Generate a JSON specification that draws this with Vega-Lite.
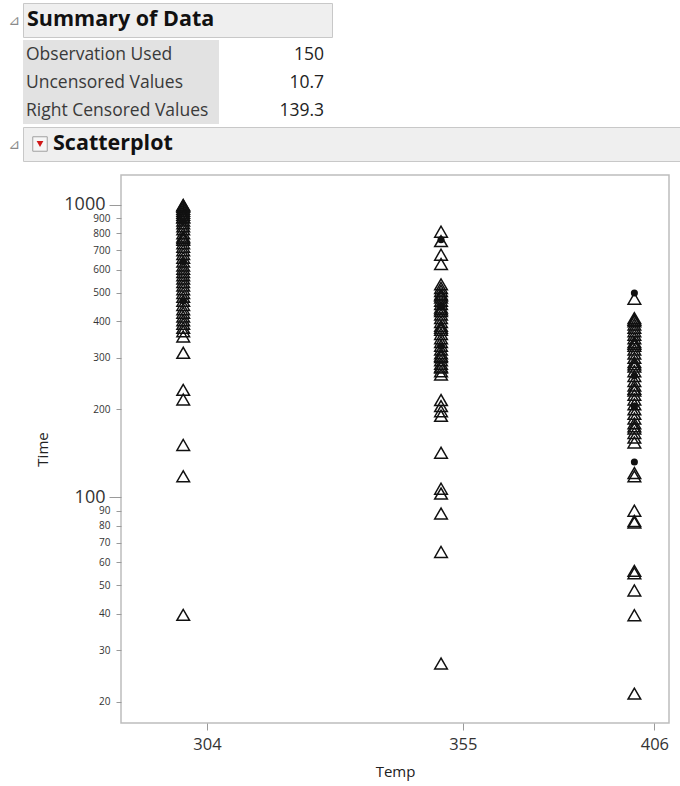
{
  "$schema": "https://vega.github.io/schema/vega-lite/v6.json",
  "background": "white",
  "padding": {"left": 7, "top": 2, "right": 0, "bottom": 0},
  "config": {"font": "Open Sans", "view": {"stroke": null}},
  "datasets": {
    "sections": [
      {"section": "Summary of Data"},
      {"section": "Scatterplot"}
    ],
    "summary": [
      {"stat": "Observation Used", "value": 150},
      {"stat": "Uncensored Values", "value": 10.7},
      {"stat": "Right Censored Values", "value": 139.3}
    ],
    "life": [
      {"Temp": 300, "Time": 1000, "Status": "Censored"},
      {"Temp": 300, "Time": 995, "Status": "Censored"},
      {"Temp": 300, "Time": 985, "Status": "Censored"},
      {"Temp": 300, "Time": 970, "Status": "Censored"},
      {"Temp": 300, "Time": 955, "Status": "Censored"},
      {"Temp": 300, "Time": 940, "Status": "Censored"},
      {"Temp": 300, "Time": 925, "Status": "Censored"},
      {"Temp": 300, "Time": 910, "Status": "Censored"},
      {"Temp": 300, "Time": 905, "Status": "Censored"},
      {"Temp": 300, "Time": 885, "Status": "Censored"},
      {"Temp": 300, "Time": 880, "Status": "Failure"},
      {"Temp": 300, "Time": 865, "Status": "Censored"},
      {"Temp": 300, "Time": 845, "Status": "Censored"},
      {"Temp": 300, "Time": 825, "Status": "Censored"},
      {"Temp": 300, "Time": 800, "Status": "Censored"},
      {"Temp": 300, "Time": 780, "Status": "Censored"},
      {"Temp": 300, "Time": 770, "Status": "Censored"},
      {"Temp": 300, "Time": 760, "Status": "Censored"},
      {"Temp": 300, "Time": 740, "Status": "Censored"},
      {"Temp": 300, "Time": 720, "Status": "Censored"},
      {"Temp": 300, "Time": 700, "Status": "Censored"},
      {"Temp": 300, "Time": 680, "Status": "Censored"},
      {"Temp": 300, "Time": 660, "Status": "Censored"},
      {"Temp": 300, "Time": 640, "Status": "Censored"},
      {"Temp": 300, "Time": 640, "Status": "Failure"},
      {"Temp": 300, "Time": 620, "Status": "Censored"},
      {"Temp": 300, "Time": 605, "Status": "Censored"},
      {"Temp": 300, "Time": 590, "Status": "Censored"},
      {"Temp": 300, "Time": 575, "Status": "Censored"},
      {"Temp": 300, "Time": 560, "Status": "Censored"},
      {"Temp": 300, "Time": 545, "Status": "Censored"},
      {"Temp": 300, "Time": 530, "Status": "Censored"},
      {"Temp": 300, "Time": 515, "Status": "Censored"},
      {"Temp": 300, "Time": 500, "Status": "Censored"},
      {"Temp": 300, "Time": 485, "Status": "Censored"},
      {"Temp": 300, "Time": 470, "Status": "Censored"},
      {"Temp": 300, "Time": 470, "Status": "Failure"},
      {"Temp": 300, "Time": 455, "Status": "Censored"},
      {"Temp": 300, "Time": 440, "Status": "Censored"},
      {"Temp": 300, "Time": 428, "Status": "Censored"},
      {"Temp": 300, "Time": 415, "Status": "Censored"},
      {"Temp": 300, "Time": 403, "Status": "Censored"},
      {"Temp": 300, "Time": 392, "Status": "Censored"},
      {"Temp": 300, "Time": 380, "Status": "Censored"},
      {"Temp": 300, "Time": 370, "Status": "Censored"},
      {"Temp": 300, "Time": 355, "Status": "Censored"},
      {"Temp": 300, "Time": 312, "Status": "Censored"},
      {"Temp": 300, "Time": 233, "Status": "Censored"},
      {"Temp": 300, "Time": 216, "Status": "Censored"},
      {"Temp": 300, "Time": 151, "Status": "Censored"},
      {"Temp": 300, "Time": 118, "Status": "Censored"},
      {"Temp": 300, "Time": 39.6, "Status": "Censored"},

      {"Temp": 350, "Time": 810, "Status": "Censored"},
      {"Temp": 350, "Time": 760, "Status": "Failure"},
      {"Temp": 350, "Time": 752, "Status": "Censored"},
      {"Temp": 350, "Time": 676, "Status": "Censored"},
      {"Temp": 350, "Time": 628, "Status": "Censored"},
      {"Temp": 350, "Time": 535, "Status": "Censored"},
      {"Temp": 350, "Time": 520, "Status": "Censored"},
      {"Temp": 350, "Time": 508, "Status": "Censored"},
      {"Temp": 350, "Time": 495, "Status": "Censored"},
      {"Temp": 350, "Time": 490, "Status": "Censored"},
      {"Temp": 350, "Time": 482, "Status": "Censored"},
      {"Temp": 350, "Time": 470, "Status": "Censored"},
      {"Temp": 350, "Time": 458, "Status": "Censored"},
      {"Temp": 350, "Time": 450, "Status": "Failure"},
      {"Temp": 350, "Time": 446, "Status": "Censored"},
      {"Temp": 350, "Time": 440, "Status": "Censored"},
      {"Temp": 350, "Time": 434, "Status": "Censored"},
      {"Temp": 350, "Time": 422, "Status": "Censored"},
      {"Temp": 350, "Time": 410, "Status": "Censored"},
      {"Temp": 350, "Time": 398, "Status": "Censored"},
      {"Temp": 350, "Time": 386, "Status": "Censored"},
      {"Temp": 350, "Time": 380, "Status": "Censored"},
      {"Temp": 350, "Time": 374, "Status": "Censored"},
      {"Temp": 350, "Time": 362, "Status": "Censored"},
      {"Temp": 350, "Time": 350, "Status": "Censored"},
      {"Temp": 350, "Time": 340, "Status": "Censored"},
      {"Temp": 350, "Time": 330, "Status": "Censored"},
      {"Temp": 350, "Time": 330, "Status": "Failure"},
      {"Temp": 350, "Time": 320, "Status": "Censored"},
      {"Temp": 350, "Time": 311, "Status": "Censored"},
      {"Temp": 350, "Time": 305, "Status": "Censored"},
      {"Temp": 350, "Time": 302, "Status": "Censored"},
      {"Temp": 350, "Time": 294, "Status": "Censored"},
      {"Temp": 350, "Time": 286, "Status": "Censored"},
      {"Temp": 350, "Time": 280, "Status": "Censored"},
      {"Temp": 350, "Time": 278, "Status": "Censored"},
      {"Temp": 350, "Time": 270, "Status": "Censored"},
      {"Temp": 350, "Time": 263, "Status": "Censored"},
      {"Temp": 350, "Time": 215, "Status": "Censored"},
      {"Temp": 350, "Time": 205, "Status": "Censored"},
      {"Temp": 350, "Time": 197, "Status": "Censored"},
      {"Temp": 350, "Time": 190, "Status": "Censored"},
      {"Temp": 350, "Time": 142, "Status": "Censored"},
      {"Temp": 350, "Time": 107, "Status": "Censored"},
      {"Temp": 350, "Time": 103, "Status": "Censored"},
      {"Temp": 350, "Time": 88, "Status": "Censored"},
      {"Temp": 350, "Time": 65, "Status": "Censored"},
      {"Temp": 350, "Time": 27, "Status": "Censored"},

      {"Temp": 400, "Time": 500, "Status": "Failure"},
      {"Temp": 400, "Time": 478, "Status": "Censored"},
      {"Temp": 400, "Time": 410, "Status": "Censored"},
      {"Temp": 400, "Time": 405, "Status": "Censored"},
      {"Temp": 400, "Time": 400, "Status": "Censored"},
      {"Temp": 400, "Time": 390, "Status": "Censored"},
      {"Temp": 400, "Time": 380, "Status": "Censored"},
      {"Temp": 400, "Time": 370, "Status": "Censored"},
      {"Temp": 400, "Time": 360, "Status": "Censored"},
      {"Temp": 400, "Time": 350, "Status": "Censored"},
      {"Temp": 400, "Time": 340, "Status": "Censored"},
      {"Temp": 400, "Time": 335, "Status": "Censored"},
      {"Temp": 400, "Time": 330, "Status": "Censored"},
      {"Temp": 400, "Time": 320, "Status": "Censored"},
      {"Temp": 400, "Time": 310, "Status": "Censored"},
      {"Temp": 400, "Time": 300, "Status": "Censored"},
      {"Temp": 400, "Time": 290, "Status": "Censored"},
      {"Temp": 400, "Time": 285, "Status": "Censored"},
      {"Temp": 400, "Time": 280, "Status": "Censored"},
      {"Temp": 400, "Time": 270, "Status": "Censored"},
      {"Temp": 400, "Time": 260, "Status": "Censored"},
      {"Temp": 400, "Time": 260, "Status": "Failure"},
      {"Temp": 400, "Time": 250, "Status": "Censored"},
      {"Temp": 400, "Time": 241, "Status": "Censored"},
      {"Temp": 400, "Time": 235, "Status": "Censored"},
      {"Temp": 400, "Time": 232, "Status": "Censored"},
      {"Temp": 400, "Time": 224, "Status": "Censored"},
      {"Temp": 400, "Time": 216, "Status": "Censored"},
      {"Temp": 400, "Time": 208, "Status": "Censored"},
      {"Temp": 400, "Time": 205, "Status": "Failure"},
      {"Temp": 400, "Time": 200, "Status": "Censored"},
      {"Temp": 400, "Time": 193, "Status": "Censored"},
      {"Temp": 400, "Time": 186, "Status": "Censored"},
      {"Temp": 400, "Time": 179, "Status": "Censored"},
      {"Temp": 400, "Time": 175, "Status": "Censored"},
      {"Temp": 400, "Time": 172, "Status": "Censored"},
      {"Temp": 400, "Time": 166, "Status": "Censored"},
      {"Temp": 400, "Time": 160, "Status": "Censored"},
      {"Temp": 400, "Time": 154, "Status": "Censored"},
      {"Temp": 400, "Time": 132, "Status": "Failure"},
      {"Temp": 400, "Time": 121, "Status": "Censored"},
      {"Temp": 400, "Time": 118, "Status": "Censored"},
      {"Temp": 400, "Time": 90, "Status": "Censored"},
      {"Temp": 400, "Time": 83, "Status": "Censored"},
      {"Temp": 400, "Time": 82, "Status": "Censored"},
      {"Temp": 400, "Time": 56, "Status": "Censored"},
      {"Temp": 400, "Time": 55, "Status": "Censored"},
      {"Temp": 400, "Time": 48, "Status": "Censored"},
      {"Temp": 400, "Time": 39.5, "Status": "Censored"},
      {"Temp": 400, "Time": 21.3, "Status": "Censored"}
    ]
  },
  "spacing": 2,
  "vconcat": [
    {
      "width": 309,
      "height": 34,
      "view": {"fill": "#efefef", "stroke": "#c8c8c8"},
      "data": {"name": "sections"},
      "transform": [{"filter": "datum.section === 'Summary of Data'"}],
      "encoding": {
        "x": {"datum": 0, "type": "quantitative", "scale": {"domain": [0, 1], "nice": false}, "axis": null}
      },
      "layer": [
        {
          "mark": {"type": "text", "align": "left", "baseline": "middle", "dx": 4, "fontSize": 21.5, "fontWeight": "bold", "color": "#111111"},
          "encoding": {"text": {"field": "section"}}
        },
        {
          "mark": {"type": "text", "align": "center", "baseline": "middle", "dx": -9, "dy": 1, "fontSize": 14, "font": "DejaVu Sans", "color": "#8a8a8a"},
          "encoding": {"text": {"value": "⊿"}}
        }
      ]
    },
    {
      "width": 305,
      "height": 84,
      "data": {"name": "summary"},
      "encoding": {
        "y": {"field": "stat", "type": "nominal", "sort": null, "axis": null, "scale": {"paddingInner": 0, "paddingOuter": 0}}
      },
      "layer": [
        {
          "mark": {"type": "rect", "color": "#e2e2e2"},
          "encoding": {
            "x": {"datum": 0, "type": "quantitative", "scale": {"domain": [0, 305], "nice": false, "zero": false}, "axis": null},
            "x2": {"datum": 196}
          }
        },
        {
          "mark": {"type": "text", "align": "left", "baseline": "middle", "dx": 3, "dy": 1, "fontSize": 17.5, "color": "#3a3a3a"},
          "encoding": {
            "x": {"datum": 0, "type": "quantitative"},
            "text": {"field": "stat"}
          }
        },
        {
          "mark": {"type": "text", "align": "right", "baseline": "middle", "dx": -4, "dy": 1, "fontSize": 17.5, "color": "#222222"},
          "encoding": {
            "x": {"datum": 305, "type": "quantitative"},
            "text": {"field": "value", "type": "quantitative"}
          }
        }
      ]
    },
    {
      "spacing": 12,
      "vconcat": [
        {
          "width": 657,
          "height": 34,
          "view": {"fill": "#efefef", "stroke": "#c8c8c8"},
          "data": {"name": "sections"},
          "transform": [{"filter": "datum.section === 'Scatterplot'"}],
          "encoding": {
            "x": {"datum": 0, "type": "quantitative", "scale": {"domain": [0, 1], "nice": false}, "axis": null}
          },
          "layer": [
            {
              "mark": {"type": "point", "shape": "square", "filled": true, "size": 210, "xOffset": 17, "fill": "#f6f6f6", "stroke": "#a0a0a0", "strokeWidth": 1, "opacity": 1}
            },
            {
              "mark": {"type": "point", "shape": "triangle-down", "filled": true, "size": 45, "xOffset": 17, "color": "#d01818", "opacity": 1}
            },
            {
              "mark": {"type": "text", "align": "left", "baseline": "middle", "dx": 30, "fontSize": 21.5, "fontWeight": "bold", "color": "#111111"},
              "encoding": {"text": {"field": "section"}}
            },
            {
              "mark": {"type": "text", "align": "center", "baseline": "middle", "dx": -9, "dy": 1, "fontSize": 14, "font": "DejaVu Sans", "color": "#8a8a8a"},
              "encoding": {"text": {"value": "⊿"}}
            }
          ]
        },
        {
          "spacing": 0,
          "hconcat": [
            {
              "width": 12,
              "height": 548,
              "data": {"values": []},
              "mark": "point"
            },
            {
              "width": 548,
              "height": 548,
              "view": {"stroke": "#bdbdbd", "strokeWidth": 1.5},
              "data": {"name": "life"},
              "encoding": {
                "x": {
                  "field": "Temp",
                  "type": "quantitative",
                  "scale": {"type": "pow", "exponent": -1, "domain": [290, 410.5], "nice": false, "zero": false},
                  "axis": {
                    "title": "Temp",
                    "values": [304, 355, 406],
                    "format": "d",
                    "grid": false,
                    "domain": false,
                    "tickColor": "#9a9a9a",
                    "tickSize": 7,
                    "labelFontSize": 16.5,
                    "labelColor": "#333333",
                    "labelPadding": 6,
                    "labelFlush": false,
                    "labelOverlap": false,
                    "titleFontSize": 15,
                    "titleFontWeight": "normal",
                    "titleColor": "#222222",
                    "titlePadding": 12
                  }
                },
                "y": {
                  "field": "Time",
                  "type": "quantitative",
                  "scale": {"type": "log", "domain": [16.9, 1266], "nice": false},
                  "axis": {
                    "title": "Time",
                    "values": [20, 30, 40, 50, 60, 70, 80, 90, 100, 200, 300, 400, 500, 600, 700, 800, 900, 1000],
                    "format": "d",
                    "grid": false,
                    "domain": false,
                    "tickColor": "#9a9a9a",
                    "tickSize": {"condition": {"test": "datum.value === 100 || datum.value === 1000", "value": 12}, "value": 5},
                    "labelFontSize": {"condition": {"test": "datum.value === 100 || datum.value === 1000", "value": 18}, "value": 10},
                    "labelPadding": {"condition": {"test": "datum.value === 100 || datum.value === 1000", "value": 4}, "value": 6},
                    "labelColor": "#333333",
                    "labelOverlap": false,
                    "titleFontSize": 15,
                    "titleFontWeight": "normal",
                    "titleColor": "#222222",
                    "titlePadding": 13
                  }
                }
              },
              "layer": [
                {
                  "transform": [{"filter": "datum.Status === 'Censored'"}],
                  "mark": {"type": "point", "shape": "triangle-up", "filled": false, "color": "#111111", "size": 160, "strokeWidth": 1.5, "opacity": 1}
                },
                {
                  "transform": [{"filter": "datum.Status === 'Failure'"}],
                  "mark": {"type": "point", "shape": "circle", "filled": true, "color": "#111111", "size": 50, "opacity": 1}
                }
              ]
            }
          ]
        }
      ]
    }
  ]
}
